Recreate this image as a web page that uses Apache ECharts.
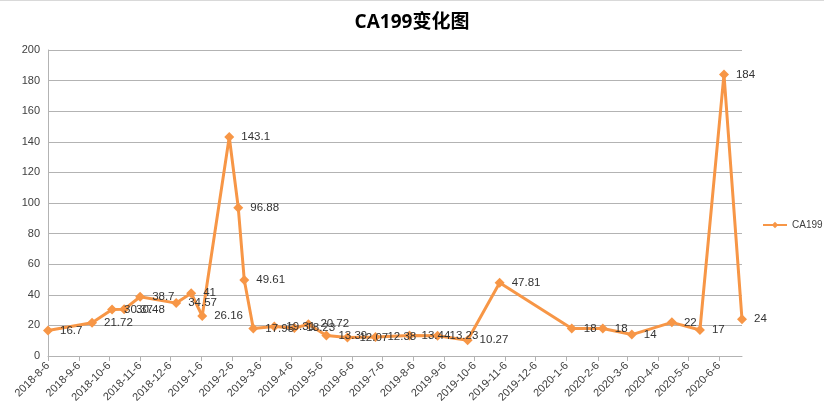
<!DOCTYPE html>
<html>
<head>
<meta charset="utf-8">
<script src="https://cdn.jsdelivr.net/npm/echarts@6/dist/echarts.min.js"></script>
<style>
  html, body { margin: 0; padding: 0; background: #fff; }
  #main { width: 824px; height: 408px; }
</style>
</head>
<body>
<div id="main"></div>
<script>
// 检测日期与CA199数值
const dates = [
  '2018-8-6', '2018-9-19', '2018-10-9', '2018-10-21', '2018-11-6', '2018-12-12', '2018-12-27',
  '2019-1-7', '2019-2-3', '2019-2-12', '2019-2-18', '2019-2-27', '2019-3-20', '2019-4-9',
  '2019-4-23', '2019-5-11', '2019-6-1', '2019-6-29', '2019-8-2', '2019-8-30', '2019-9-29',
  '2019-10-31', '2020-1-11', '2020-2-11', '2020-3-11', '2020-4-20', '2020-5-18', '2020-6-11',
  '2020-6-29'
]
const ca199 = [
  16.7, 21.72, 30.37, 30.48, 38.7, 34.57, 41,
  26.16, 143.1, 96.88, 49.61, 17.95, 19.31, 18.23,
  20.72, 13.39, 12.07, 12.38, 13.44, 13.23, 10.27,
  47.81, 18, 18, 14, 22, 17, 184,
  24
]
// x轴刻度（每月6号）
const tickLabels = [
  '2018-8-6', '2018-9-6', '2018-10-6', '2018-11-6', '2018-12-6', '2019-1-6', '2019-2-6',
  '2019-3-6', '2019-4-6', '2019-5-6', '2019-6-6', '2019-7-6', '2019-8-6', '2019-9-6',
  '2019-10-6', '2019-11-6', '2019-12-6', '2020-1-6', '2020-2-6', '2020-3-6', '2020-4-6',
  '2020-5-6', '2020-6-6'
]

let toTime = (s) => {
  let p = s.split('-').map(Number)
  return Date.UTC(p[0], p[1] - 1, p[2])
}
let fmt = (v) => {
  let d = new Date(v)
  return d.getUTCFullYear() + '-' + (d.getUTCMonth() + 1) + '-' + d.getUTCDate()
}

const tickValues = tickLabels.map(toTime)
const seriesData = dates.map((d, i) => [toTime(d), ca199[i]])

let chartInstance = echarts.init(document.getElementById('main'))
const option = {
  animation: false,
  textStyle: { fontFamily: 'Liberation Sans, Noto Sans CJK SC, sans-serif' },
  title: {
    text: 'CA199变化图',
    left: 'center',
    top: 8,
    textStyle: {
      fontSize: 19,
      fontWeight: 'bold',
      color: '#000',
      fontFamily: 'Open Sans, Noto Sans CJK SC, sans-serif'
    }
  },
  legend: {
    data: ['CA199'],
    orient: 'vertical',
    left: 762,
    top: 220,
    padding: 0,
    itemWidth: 24,
    itemHeight: 8,
    itemGap: 2,
    textStyle: { fontSize: 10, color: '#404040' }
  },
  grid: {
    left: 48,
    right: 82,
    top: 50,
    bottom: 52
  },
  xAxis: {
    type: 'value',
    min: toTime(dates[0]),
    max: toTime(dates[dates.length - 1]),
    splitLine: { show: false },
    axisLine: { show: true, lineStyle: { color: '#b3b3b3', width: 1 } },
    axisTick: {
      show: true,
      customValues: tickValues,
      length: 5,
      lineStyle: { color: '#b3b3b3' }
    },
    axisLabel: {
      customValues: tickValues,
      rotate: 45,
      fontSize: 11,
      color: '#404040',
      margin: 8,
      formatter: (v) => fmt(v)
    }
  },
  yAxis: {
    type: 'value',
    min: 0,
    max: 200,
    interval: 20,
    axisLine: { show: true, lineStyle: { color: '#b3b3b3', width: 1 } },
    axisTick: { show: false },
    axisLabel: { fontSize: 11, color: '#404040', margin: 8 },
    splitLine: { lineStyle: { color: '#b3b3b3', width: 1 } }
  },
  series: [
    {
      name: 'CA199',
      type: 'line',
      data: seriesData,
      symbol: 'diamond',
      symbolSize: 10,
      color: '#f79646',
      lineStyle: { color: '#f79646', width: 3 },
      itemStyle: { color: '#f79646' },
      label: {
        show: true,
        position: 'right',
        distance: 7,
        fontSize: 11.5,
        color: '#333',
        formatter: (p) => p.value[1]
      },
      labelLayout: { hideOverlap: false }
    }
  ],
  graphic: [
    {
      type: 'line',
      shape: { x1: 0, y1: 0.5, x2: 824, y2: 0.5 },
      style: { stroke: '#d9d9d9', lineWidth: 1 }
    }
  ]
}
chartInstance.setOption(option)
</script>
</body>
</html>
